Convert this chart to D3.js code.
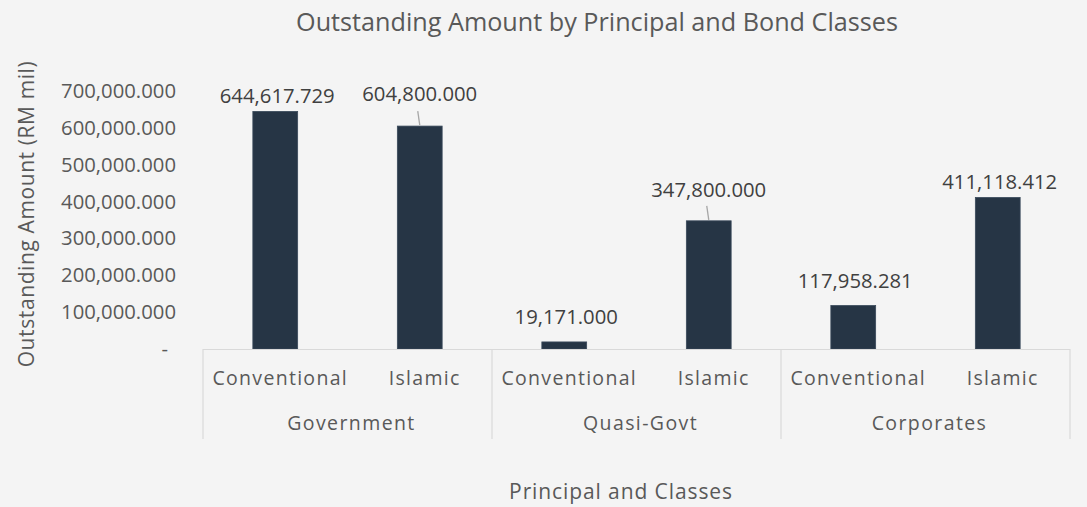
<!DOCTYPE html>
<html><head><meta charset="utf-8">
<script src="https://cdn.jsdelivr.net/npm/d3@7"></script>
<style>
html,body{margin:0;padding:0;background:#f4f4f4;}
text{font-family:"Open Sans",sans-serif;}
</style></head>
<body><svg id="c" width="1087" height="507"></svg>
<script>
const groups = ["Government", "Quasi-Govt", "Corporates"];
const classes = ["Conventional", "Islamic"];
const values = [644617.729, 604800.000, 19171.000, 347800.000, 117958.281, 411118.412];
const yTicks = [0, 100000, 200000, 300000, 400000, 500000, 600000, 700000];

const rows = [];
groups.forEach((g, gi) => classes.forEach((c, ci) => rows.push({g, c, v: values[gi*2+ci], key: g + "|" + c})));

// label layout (gap above bar, leader flag)
const labelGap = [15, 32, 25, 31, 25, 15];
const leader = [false, true, false, true, false, false];

const svg = d3.select("#c");
svg.append("rect").attr("width",1087).attr("height",507).attr("fill","#f4f4f4");

const x0 = 203, x1 = 1070, yBase = 349;
const x = d3.scaleBand().domain(rows.map(d=>d.key)).range([x0,x1]).paddingInner(0.69).paddingOuter(0.345);
const y = d3.scaleLinear().domain([0,700000]).range([yBase,91]);

// title
svg.append("text").attr("x",597).attr("y",31).attr("text-anchor","middle")
  .attr("font-size",25.2).attr("fill","#595959").text("Outstanding Amount by Principal and Bond Classes");

// y ticks
const fmt = d3.format(",.3f");
const yAxis = d3.axisLeft(y).tickValues(yTicks).tickSize(0).tickPadding(0)
  .tickFormat(d => d === 0 ? "-" : fmt(d));
const ya = svg.append("g").attr("transform","translate(176,0)").call(yAxis);
ya.select(".domain").remove();
ya.selectAll("text").attr("font-size",20.3).attr("fill","#595959").attr("font-family","Open Sans, sans-serif").attr("dx", d=> d===0 ? -8 : 0);

// bars
svg.append("g").selectAll("rect").data(rows).join("rect")
  .attr("x", d=>x(d.key)).attr("width", x.bandwidth())
  .attr("y", d=>y(d.v)).attr("height", d=>yBase - y(d.v))
  .attr("fill","#263545").attr("stroke","#3a4a5b").attr("stroke-width",0.8);

// axis line & separators
svg.append("line").attr("x1",x0).attr("x2",x1).attr("y1",yBase+0.5).attr("y2",yBase+0.5).attr("stroke","#d9d9d9").attr("stroke-width",1.2);
const gw = (x1-x0)/groups.length;
d3.range(groups.length+1).forEach(i=>{
  svg.append("line").attr("x1",x0+i*gw).attr("x2",x0+i*gw).attr("y1",yBase).attr("y2",439)
    .attr("stroke","#d9d9d9").attr("stroke-width",1.2);
});

// category labels
svg.append("g").selectAll("text").data(rows).join("text")
  .attr("x", d=>x(d.key)+x.bandwidth()/2+5).attr("y",385).attr("text-anchor","middle")
  .attr("font-size",19.5).attr("letter-spacing",1.3).attr("fill","#595959").text(d=>d.c);
// group labels
svg.append("g").selectAll("text").data(groups).join("text")
  .attr("x",(d,i)=>x0+gw*(i+0.5)+4).attr("y",430).attr("text-anchor","middle")
  .attr("font-size",19.5).attr("letter-spacing",1.4).attr("fill","#595959").text(d=>d);

// data labels
rows.forEach((d,i)=>{
  const cx = x(d.key)+x.bandwidth()/2;
  const top = y(d.v);
  svg.append("text").attr("x",cx+ (leader[i]?0:2)).attr("y",top-labelGap[i]+7).attr("text-anchor","middle")
    .attr("font-size",20.3).attr("fill","#404040").text(fmt(d.v));
  if (leader[i]) {
    svg.append("line").attr("x1",cx-2).attr("x2",cx).attr("y1",top-15).attr("y2",top-1)
      .attr("stroke","#a6a6a6").attr("stroke-width",1.3);
  }
});

// axis titles
svg.append("text").attr("x",621).attr("y",499).attr("text-anchor","middle")
  .attr("font-size",21).attr("letter-spacing",0.9).attr("fill","#595959").text("Principal and Classes");
svg.append("text").attr("transform","translate(34,214) rotate(-90)").attr("text-anchor","middle")
  .attr("font-size",21).attr("letter-spacing",0.6).attr("fill","#595959").text("Outstanding Amount (RM mil)");
</script></body></html>
